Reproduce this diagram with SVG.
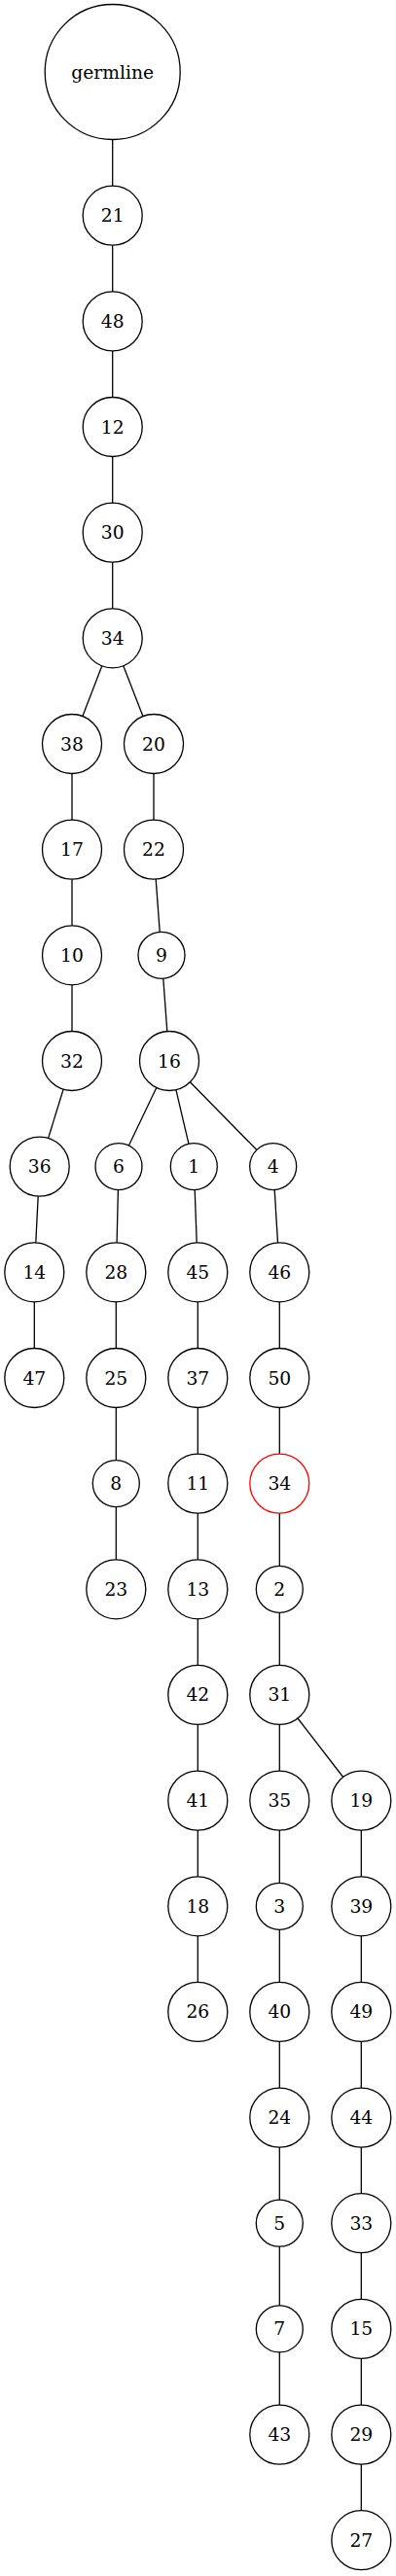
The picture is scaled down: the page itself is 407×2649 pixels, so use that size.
<svg xmlns="http://www.w3.org/2000/svg" width="407" height="2649" viewBox="0 0 407 2649">
<style>
.n circle{fill:none;stroke:#000;stroke-width:1.3}
.n text{font-family:"DejaVu Serif","Liberation Serif",serif;font-size:18.7px;fill:#000;text-anchor:middle}
#n_34b circle{stroke:#ff0000}
#edges line{stroke:#000;stroke-width:1.3}
</style>
<rect width="407" height="2649" fill="#fff"/>
<g id="edges">
<line x1="115.7" y1="143.5" x2="115.7" y2="191.2"/>
<line x1="115.7" y1="252.2" x2="115.7" y2="299.9"/>
<line x1="115.7" y1="360.9" x2="115.7" y2="408.5"/>
<line x1="115.7" y1="469.5" x2="115.7" y2="517.2"/>
<line x1="115.7" y1="578.2" x2="115.7" y2="625.8"/>
<line x1="104.8" y1="684.8" x2="84.9" y2="736.5"/>
<line x1="126.8" y1="684.7" x2="146.9" y2="736.6"/>
<line x1="74" y1="795.5" x2="74" y2="843.2"/>
<line x1="158" y1="795.5" x2="158" y2="843.2"/>
<line x1="74" y1="904.2" x2="74" y2="951.8"/>
<line x1="160.2" y1="904.1" x2="164.2" y2="958.4"/>
<line x1="74" y1="1012.8" x2="74" y2="1060.5"/>
<line x1="167.8" y1="1006.2" x2="171.8" y2="1060.6"/>
<line x1="65.1" y1="1120.2" x2="49.6" y2="1170.4"/>
<line x1="160.8" y1="1118.5" x2="132.4" y2="1178.0"/>
<line x1="180.9" y1="1120.7" x2="193.9" y2="1176.2"/>
<line x1="195.4" y1="1112.8" x2="263.9" y2="1182.5"/>
<line x1="39.2" y1="1230.1" x2="36.8" y2="1277.8"/>
<line x1="121.4" y1="1223.6" x2="120.1" y2="1277.8"/>
<line x1="200.2" y1="1223.6" x2="202.2" y2="1277.8"/>
<line x1="282.2" y1="1223.6" x2="285.5" y2="1277.9"/>
<line x1="35.3" y1="1338.8" x2="35.3" y2="1386.5"/>
<line x1="119.3" y1="1338.8" x2="119.3" y2="1386.5"/>
<line x1="203.3" y1="1338.8" x2="203.3" y2="1386.5"/>
<line x1="287.3" y1="1338.8" x2="287.3" y2="1386.5"/>
<line x1="119.3" y1="1447.5" x2="119.3" y2="1501.6"/>
<line x1="203.3" y1="1447.5" x2="203.3" y2="1495.1"/>
<line x1="287.3" y1="1447.5" x2="287.3" y2="1495.1"/>
<line x1="119.3" y1="1549.6" x2="119.3" y2="1603.8"/>
<line x1="203.3" y1="1556.1" x2="203.3" y2="1603.8"/>
<line x1="287.3" y1="1556.1" x2="287.3" y2="1610.3"/>
<line x1="203.3" y1="1664.8" x2="203.3" y2="1712.4"/>
<line x1="287.3" y1="1658.3" x2="287.3" y2="1712.4"/>
<line x1="203.3" y1="1773.4" x2="203.3" y2="1821.1"/>
<line x1="287.3" y1="1773.4" x2="287.3" y2="1821.1"/>
<line x1="306.0" y1="1767.0" x2="352.7" y2="1827.5"/>
<line x1="203.3" y1="1882.1" x2="203.3" y2="1929.8"/>
<line x1="287.3" y1="1882.1" x2="287.3" y2="1936.3"/>
<line x1="371.3" y1="1882.1" x2="371.3" y2="1929.8"/>
<line x1="203.3" y1="1990.8" x2="203.3" y2="2038.4"/>
<line x1="287.3" y1="1984.3" x2="287.3" y2="2038.4"/>
<line x1="371.3" y1="1990.8" x2="371.3" y2="2038.4"/>
<line x1="287.3" y1="2099.4" x2="287.3" y2="2147.1"/>
<line x1="371.3" y1="2099.4" x2="371.3" y2="2147.1"/>
<line x1="287.3" y1="2208.1" x2="287.3" y2="2262.2"/>
<line x1="371.3" y1="2208.1" x2="371.3" y2="2255.7"/>
<line x1="287.3" y1="2310.2" x2="287.3" y2="2370.9"/>
<line x1="371.3" y1="2316.7" x2="371.3" y2="2364.4"/>
<line x1="287.3" y1="2418.9" x2="287.3" y2="2473.1"/>
<line x1="371.3" y1="2425.4" x2="371.3" y2="2473.1"/>
<line x1="371.3" y1="2534.1" x2="371.3" y2="2581.7"/>
</g>
<g id="n_germline" class="n"><circle cx="115.7" cy="74" r="69.5"/><text x="115.7" y="80.5">germline</text></g>
<g id="n_21" class="n"><circle cx="115.7" cy="221.7" r="30.5"/><text x="115.7" y="228.2">21</text></g>
<g id="n_48" class="n"><circle cx="115.7" cy="330.4" r="30.5"/><text x="115.7" y="336.9">48</text></g>
<g id="n_12" class="n"><circle cx="115.7" cy="439" r="30.5"/><text x="115.7" y="445.5">12</text></g>
<g id="n_30" class="n"><circle cx="115.7" cy="547.7" r="30.5"/><text x="115.7" y="554.2">30</text></g>
<g id="n_34a" class="n"><circle cx="115.7" cy="656.3" r="30.5"/><text x="115.7" y="662.8">34</text></g>
<g id="n_38" class="n"><circle cx="74" cy="765" r="30.5"/><text x="74" y="771.5">38</text></g>
<g id="n_20" class="n"><circle cx="158" cy="765" r="30.5"/><text x="158" y="771.5">20</text></g>
<g id="n_17" class="n"><circle cx="74" cy="873.7" r="30.5"/><text x="74" y="880.2">17</text></g>
<g id="n_22" class="n"><circle cx="158" cy="873.7" r="30.5"/><text x="158" y="880.2">22</text></g>
<g id="n_10" class="n"><circle cx="74" cy="982.3" r="30.5"/><text x="74" y="988.8">10</text></g>
<g id="n_9" class="n"><circle cx="166" cy="982.3" r="24"/><text x="166" y="988.8">9</text></g>
<g id="n_32" class="n"><circle cx="74" cy="1091" r="30.5"/><text x="74" y="1097.5">32</text></g>
<g id="n_16" class="n"><circle cx="174" cy="1091" r="30.5"/><text x="174" y="1097.5">16</text></g>
<g id="n_36" class="n"><circle cx="40.7" cy="1199.6" r="30.5"/><text x="40.7" y="1206.1">36</text></g>
<g id="n_6" class="n"><circle cx="122" cy="1199.6" r="24"/><text x="122" y="1206.1">6</text></g>
<g id="n_1" class="n"><circle cx="199.3" cy="1199.6" r="24"/><text x="199.3" y="1206.1">1</text></g>
<g id="n_4" class="n"><circle cx="280.7" cy="1199.6" r="24"/><text x="280.7" y="1206.1">4</text></g>
<g id="n_14" class="n"><circle cx="35.3" cy="1308.3" r="30.5"/><text x="35.3" y="1314.8">14</text></g>
<g id="n_28" class="n"><circle cx="119.3" cy="1308.3" r="30.5"/><text x="119.3" y="1314.8">28</text></g>
<g id="n_45" class="n"><circle cx="203.3" cy="1308.3" r="30.5"/><text x="203.3" y="1314.8">45</text></g>
<g id="n_46" class="n"><circle cx="287.3" cy="1308.3" r="30.5"/><text x="287.3" y="1314.8">46</text></g>
<g id="n_47" class="n"><circle cx="35.3" cy="1417" r="30.5"/><text x="35.3" y="1423.5">47</text></g>
<g id="n_25" class="n"><circle cx="119.3" cy="1417" r="30.5"/><text x="119.3" y="1423.5">25</text></g>
<g id="n_37" class="n"><circle cx="203.3" cy="1417" r="30.5"/><text x="203.3" y="1423.5">37</text></g>
<g id="n_50" class="n"><circle cx="287.3" cy="1417" r="30.5"/><text x="287.3" y="1423.5">50</text></g>
<g id="n_8" class="n"><circle cx="119.3" cy="1525.6" r="24"/><text x="119.3" y="1532.1">8</text></g>
<g id="n_11" class="n"><circle cx="203.3" cy="1525.6" r="30.5"/><text x="203.3" y="1532.1">11</text></g>
<g id="n_34b" class="n"><circle cx="287.3" cy="1525.6" r="30.5"/><text x="287.3" y="1532.1">34</text></g>
<g id="n_23" class="n"><circle cx="119.3" cy="1634.3" r="30.5"/><text x="119.3" y="1640.8">23</text></g>
<g id="n_13" class="n"><circle cx="203.3" cy="1634.3" r="30.5"/><text x="203.3" y="1640.8">13</text></g>
<g id="n_2" class="n"><circle cx="287.3" cy="1634.3" r="24"/><text x="287.3" y="1640.8">2</text></g>
<g id="n_42" class="n"><circle cx="203.3" cy="1742.9" r="30.5"/><text x="203.3" y="1749.4">42</text></g>
<g id="n_31" class="n"><circle cx="287.3" cy="1742.9" r="30.5"/><text x="287.3" y="1749.4">31</text></g>
<g id="n_41" class="n"><circle cx="203.3" cy="1851.6" r="30.5"/><text x="203.3" y="1858.1">41</text></g>
<g id="n_35" class="n"><circle cx="287.3" cy="1851.6" r="30.5"/><text x="287.3" y="1858.1">35</text></g>
<g id="n_19" class="n"><circle cx="371.3" cy="1851.6" r="30.5"/><text x="371.3" y="1858.1">19</text></g>
<g id="n_18" class="n"><circle cx="203.3" cy="1960.3" r="30.5"/><text x="203.3" y="1966.8">18</text></g>
<g id="n_3" class="n"><circle cx="287.3" cy="1960.3" r="24"/><text x="287.3" y="1966.8">3</text></g>
<g id="n_39" class="n"><circle cx="371.3" cy="1960.3" r="30.5"/><text x="371.3" y="1966.8">39</text></g>
<g id="n_26" class="n"><circle cx="203.3" cy="2068.9" r="30.5"/><text x="203.3" y="2075.4">26</text></g>
<g id="n_40" class="n"><circle cx="287.3" cy="2068.9" r="30.5"/><text x="287.3" y="2075.4">40</text></g>
<g id="n_49" class="n"><circle cx="371.3" cy="2068.9" r="30.5"/><text x="371.3" y="2075.4">49</text></g>
<g id="n_24" class="n"><circle cx="287.3" cy="2177.6" r="30.5"/><text x="287.3" y="2184.1">24</text></g>
<g id="n_44" class="n"><circle cx="371.3" cy="2177.6" r="30.5"/><text x="371.3" y="2184.1">44</text></g>
<g id="n_5" class="n"><circle cx="287.3" cy="2286.2" r="24"/><text x="287.3" y="2292.7">5</text></g>
<g id="n_33" class="n"><circle cx="371.3" cy="2286.2" r="30.5"/><text x="371.3" y="2292.7">33</text></g>
<g id="n_7" class="n"><circle cx="287.3" cy="2394.9" r="24"/><text x="287.3" y="2401.4">7</text></g>
<g id="n_15" class="n"><circle cx="371.3" cy="2394.9" r="30.5"/><text x="371.3" y="2401.4">15</text></g>
<g id="n_43" class="n"><circle cx="287.3" cy="2503.6" r="30.5"/><text x="287.3" y="2510.1">43</text></g>
<g id="n_29" class="n"><circle cx="371.3" cy="2503.6" r="30.5"/><text x="371.3" y="2510.1">29</text></g>
<g id="n_27" class="n"><circle cx="371.3" cy="2612.2" r="30.5"/><text x="371.3" y="2618.7">27</text></g>
</svg>
